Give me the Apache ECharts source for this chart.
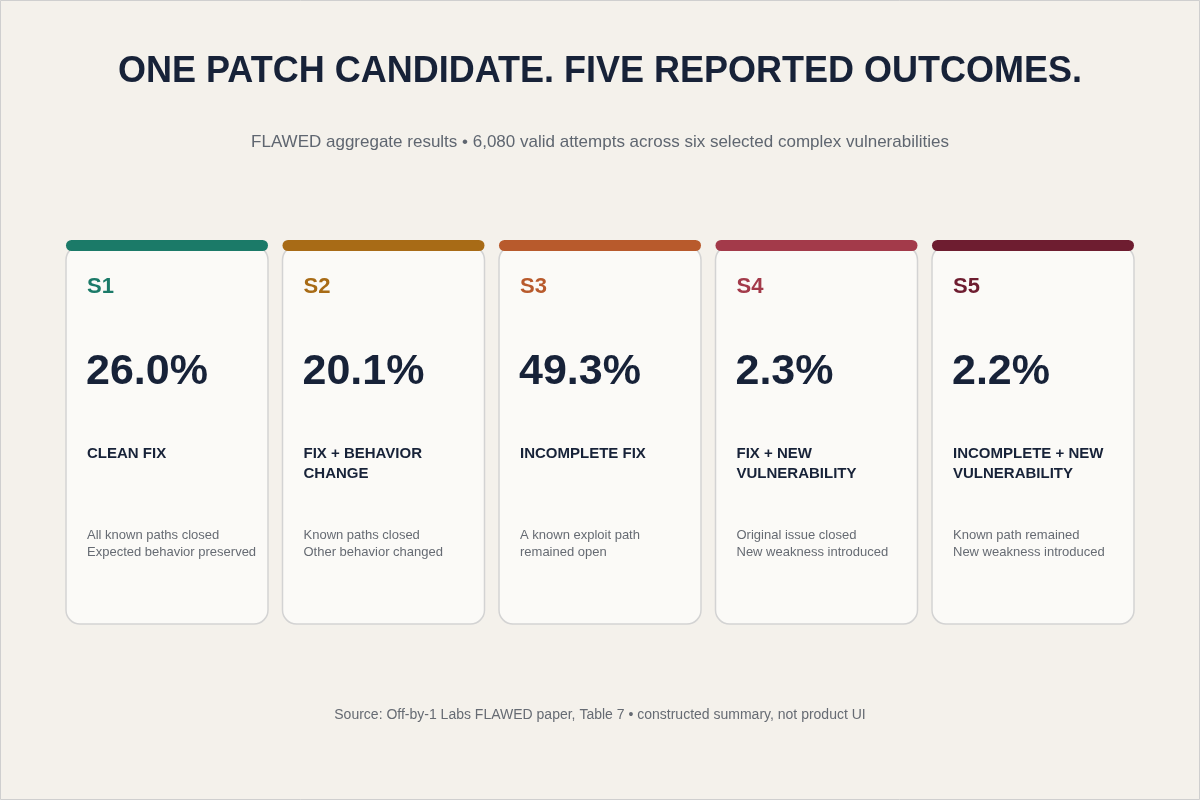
<!DOCTYPE html>
<html><head><meta charset="utf-8">
<style>html,body{margin:0;padding:0;background:#f3f0ea}#c{width:1200px;height:800px}</style>
<script src="https://cdn.jsdelivr.net/npm/echarts@6/dist/echarts.min.js"></script>
</head><body><div id="c"></div>
<script>
let codes = ['S1', 'S2', 'S3', 'S4', 'S5'];
let values = [26.0, 20.1, 49.3, 2.3, 2.2];
let outcomes = ['CLEAN FIX', 'FIX + BEHAVIOR\nCHANGE', 'INCOMPLETE FIX', 'FIX + NEW\nVULNERABILITY', 'INCOMPLETE + NEW\nVULNERABILITY'];
let notes = ['All known paths closed\nExpected behavior preserved', 'Known paths closed\nOther behavior changed', 'A known exploit path\nremained open', 'Original issue closed\nNew weakness introduced', 'Known path remained\nNew weakness introduced'];
let colors = ['#1b7a68', '#a86b16', '#b85a2c', '#a33a4a', '#6e1d30'];

let ff = 'Liberation Sans';
function txt(x, y, text, size, weight, fill, extra) {
  return {
    type: 'text', x: x, y: y,
    style: Object.assign({ text: text, fontFamily: ff, fontSize: size, fontWeight: weight, fill: fill, verticalAlign: 'middle' }, extra || {})
  };
}
let chart = echarts.init(document.getElementById('c'));
let els = [
  { type: 'rect', shape: { x: 0.5, y: 0.5, width: 1199, height: 799 }, style: { fill: '#f4f1eb', stroke: '#cfcfcf', lineWidth: 1 } },
  txt(600, 72, 'ONE PATCH CANDIDATE. FIVE REPORTED OUTCOMES.', 36, 'bold', '#172238', { align: 'center' }),
  txt(600, 142, 'FLAWED aggregate results \u2022 6,080 valid attempts across six selected complex vulnerabilities', 17, 'normal', '#5f6670', { align: 'center' }),
  txt(600, 715, 'Source: Off-by-1 Labs FLAWED paper, Table 7 \u2022 constructed summary, not product UI', 14, 'normal', '#666b73', { align: 'center' })
];
codes.forEach(function (c, i) {
  let x = 66 + i * 216.5, w = 202;
  els.push(
    { type: 'rect', shape: { x: x, y: 246, width: w, height: 378, r: 14 }, style: { fill: '#fbfaf7', stroke: '#d3d3d3', lineWidth: 1.5 } },
    { type: 'rect', shape: { x: x, y: 240, width: w, height: 11, r: 5.5 }, style: { fill: colors[i] } },
    txt(x + 21, 287, c, 22, 'bold', colors[i]),
    txt(x + 20, 372, values[i].toFixed(1) + '%', 43, 'bold', '#172238'),
    txt(x + 21, 444, outcomes[i], 15, 'bold', '#172238', { lineHeight: 20, verticalAlign: 'top' }),
    txt(x + 21, 527, notes[i], 13, 'normal', '#666b73', { lineHeight: 17, verticalAlign: 'top' })
  );
});
chart.setOption({ animation: false, graphic: { elements: els } });
</script></body></html>
